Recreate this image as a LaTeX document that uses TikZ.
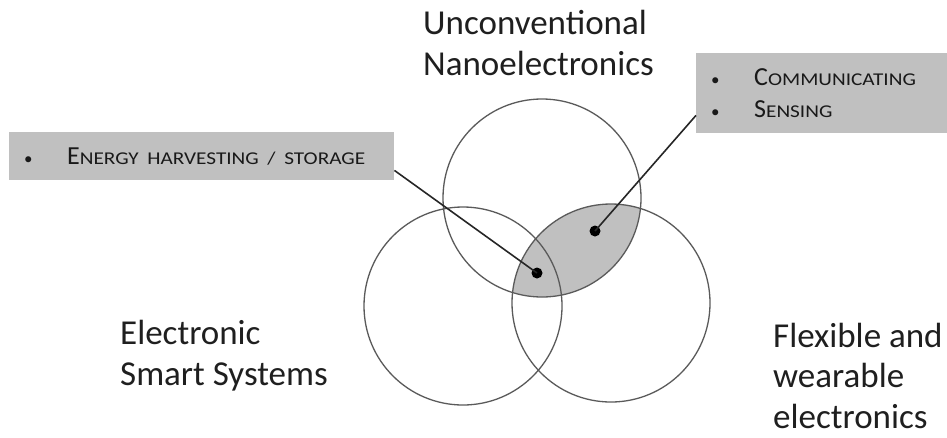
\documentclass[tikz,border=0pt]{standalone}
\usepackage{fontspec}
\setmainfont{Carlito}
\usetikzlibrary{positioning}
\definecolor{boxgray}{HTML}{C0C0C0}
\definecolor{ringgray}{HTML}{5A5A5A}
\newcommand{\lowcap}[1]{{\fontsize{18}{18}\selectfont\addfontfeature{FakeStretch=1.18}#1}}
\newcommand{\itembullet}{\makebox[46pt][l]{\hspace{3pt}{\fontsize{17}{17}\selectfont\textbullet}}}

\begin{document}
\begin{tikzpicture}[x=1pt,y=-1pt,
    ring/.style={circle,draw=ringgray,line width=1.3pt,minimum size=198pt,inner sep=0pt},
    dot/.style={circle,fill=black,minimum size=11pt,inner sep=0pt},
    topic/.style={align=left,anchor=base west,inner sep=0pt,font=\fontsize{35}{40.5}\selectfont,text=black!88},
    notebox/.style={fill=boxgray,align=left,anchor=north west,inner xsep=12pt,inner ysep=0pt,font=\fontsize{26}{31.7}\selectfont,text=black!90}]
    \useasboundingbox (0,0) rectangle (947,437);

    % shared part of the top and right circles
    \begin{scope}
        \clip (542,198) circle (99pt);
        \fill[boxgray] (611,303) circle (99pt);
    \end{scope}

    \node[ring] (nano) at (542,198) {};
    \node[ring] (smart) at (463,306) {};
    \node[ring] (flex) at (611,303) {};

    % base anchor sits on the last line
    \node[topic] (nanolabel) at (423,75) {Unconventional\\Nanoelectronics};
    \node[topic] (smartlabel) at (120,385) {Electronic\\Smart Systems};
    \node[topic] (flexlabel) at (773,428) {Flexible and\\wearable\\electronics};

    \node[notebox,text width=361pt,minimum height=48pt] (energy) at (9,132)
        {\itembullet E\lowcap{NERGY HARVESTING / STORAGE}};
    \node[notebox,text width=227pt,minimum height=80pt] (comm) at (696,53)
        {\itembullet C\lowcap{OMMUNICATING}\\\itembullet S\lowcap{ENSING}};

    \node[dot] (harvest) at (537,273) {};
    \node[dot] (sense) at (595,231) {};

    \draw[line width=1.6pt,black!85] ([yshift=10pt] energy.south east) -- (harvest.center);
    \draw[line width=1.6pt,black!85] ([yshift=18pt] comm.south west) -- (sense.center);
\end{tikzpicture}
\end{document}
